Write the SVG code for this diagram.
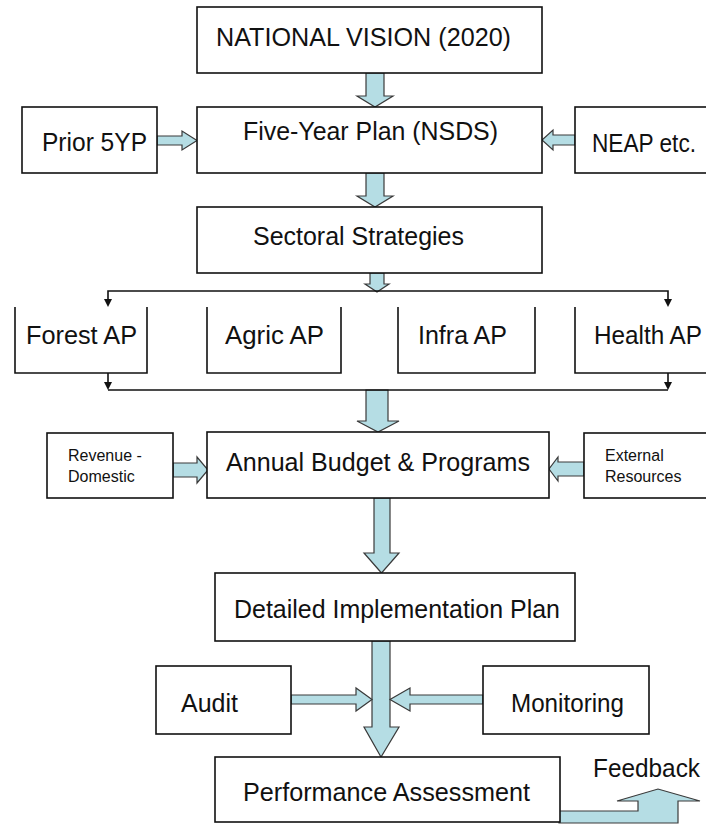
<svg xmlns="http://www.w3.org/2000/svg" width="706" height="824" viewBox="0 0 706 824">
<style>
.box{fill:#fff;stroke:#111;stroke-width:1.6}
.open{fill:none;stroke:#111;stroke-width:1.6}
.blk{fill:#b5dde4;stroke:#3a3a3a;stroke-width:1.2;stroke-linejoin:miter}
.ln{fill:none;stroke:#111;stroke-width:1.6}
.hd{fill:#111}
text{font-family:"Liberation Sans",Arial,sans-serif;font-size:25px;fill:#111}
.sm{font-size:16px}
</style>
<rect width="706" height="824" fill="#fff"/>
<g id="connectors">
  <path class="blk" d="M366,73 L384,73 L384,96 L393,96 L375,107 L357,96 L366,96 Z"/>
  <path class="blk" d="M366,173 L384,173 L384,196 L393,196 L375,207 L357,196 L366,196 Z"/>
  <path class="blk" d="M370,273 L384,273 L384,284 L389,284 L377,292 L365,284 L370,284 Z"/>
  <path class="blk" d="M366,390 L388,390 L388,421 L399,421 L378,432 L357,421 L366,421 Z"/>
  <path class="blk" d="M374,498 L390,498 L390,553 L399,553 L381.5,573 L364,553 L374,553 Z"/>
  <path class="blk" d="M372,641 L390,641 L390,727 L399,727 L381,757 L364,727 L372,727 Z"/>
  <path class="blk" d="M157,136 L182,136 L182,131 L197,140.5 L182,150 L182,145 L157,145 Z"/>
  <path class="blk" d="M575,135 L553,135 L553,130 L542,140 L553,150 L553,145 L575,145 Z"/>
  <path class="blk" d="M173,463 L197,463 L197,457 L208,470 L197,483 L197,477 L173,477 Z"/>
  <path class="blk" d="M584,462 L558,462 L558,457 L549,469 L558,481 L558,476 L584,476 Z"/>
  <path class="blk" d="M291,695 L356,695 L356,688 L372,699.5 L356,711 L356,704 L291,704 Z"/>
  <path class="blk" d="M483,695 L410,695 L410,688 L390,699.5 L410,711 L410,704 L483,704 Z"/>
  <path class="blk" d="M559,823 L678,823 L678,801 L700,801 L658,789 L617,801 L638,801 L638,811 L559,811 Z"/>
  <path class="ln" d="M108,299 L108,291 L668,291 L668,299"/>
  <polygon class="hd" points="104,299 112,299 108,307"/>
  <polygon class="hd" points="664,299 672,299 668,307"/>
  <path class="ln" d="M108,373 L108,382 M668,373 L668,382 M108,390 L668,390"/>
  <polygon class="hd" points="104,382 112,382 108,390"/>
  <polygon class="hd" points="664,382 672,382 668,390"/>
</g>
<g id="vision"><rect class="box" x="197" y="7" width="345" height="66"/><text x="216" y="46" textLength="295" lengthAdjust="spacingAndGlyphs">NATIONAL VISION (2020)</text></g>
<g id="fiveyear"><rect class="box" x="197" y="107" width="345" height="66"/><text x="243" y="140" textLength="255" lengthAdjust="spacingAndGlyphs">Five-Year Plan (NSDS)</text></g>
<g id="prior"><rect class="box" x="22" y="107" width="135" height="66"/><text x="42" y="151" textLength="105" lengthAdjust="spacingAndGlyphs">Prior 5YP</text></g>
<g id="neap"><rect class="box" x="575" y="107" width="140" height="66"/><text x="592" y="152" textLength="104" lengthAdjust="spacingAndGlyphs">NEAP etc.</text></g>
<g id="sectoral"><rect class="box" x="197" y="207" width="345" height="66"/><text x="253" y="245" textLength="211" lengthAdjust="spacingAndGlyphs">Sectoral Strategies</text></g>
<g id="forest"><path class="open" d="M15,307 V373 H147 V307"/><text x="26" y="344" textLength="111" lengthAdjust="spacingAndGlyphs">Forest AP</text></g>
<g id="agric"><path class="open" d="M207,307 V373 H341 V307"/><text x="225" y="344" textLength="99" lengthAdjust="spacingAndGlyphs">Agric AP</text></g>
<g id="infra"><path class="open" d="M398,307 V373 H535 V307"/><text x="418" y="344" textLength="89" lengthAdjust="spacingAndGlyphs">Infra AP</text></g>
<g id="health"><path class="open" d="M575,307 V373 H715"/><text x="594" y="344" textLength="108" lengthAdjust="spacingAndGlyphs">Health AP</text></g>
<g id="budget"><rect class="box" x="207" y="432" width="342" height="66"/><text x="226" y="471" textLength="304" lengthAdjust="spacingAndGlyphs">Annual Budget &amp; Programs</text></g>
<g id="revenue"><rect class="box" x="47" y="433" width="126" height="65"/><text class="sm" x="68" y="461">Revenue -</text><text class="sm" x="68" y="482">Domestic</text></g>
<g id="external"><rect class="box" x="584" y="433" width="130" height="65"/><text class="sm" x="605" y="461">External</text><text class="sm" x="605" y="482">Resources</text></g>
<g id="detailed"><rect class="box" x="215" y="573" width="360" height="68"/><text x="234" y="618" textLength="326" lengthAdjust="spacingAndGlyphs">Detailed Implementation Plan</text></g>
<g id="audit"><rect class="box" x="156" y="666" width="135" height="68"/><text x="181" y="712">Audit</text></g>
<g id="monitoring"><rect class="box" x="483" y="666" width="166" height="68"/><text x="511" y="712" textLength="113" lengthAdjust="spacingAndGlyphs">Monitoring</text></g>
<g id="performance"><rect class="box" x="215" y="757" width="345" height="65"/><text x="243" y="801" textLength="287" lengthAdjust="spacingAndGlyphs">Performance Assessment</text></g>
<g id="feedback"><text x="593" y="777" textLength="107" lengthAdjust="spacingAndGlyphs">Feedback</text></g>
</svg>
